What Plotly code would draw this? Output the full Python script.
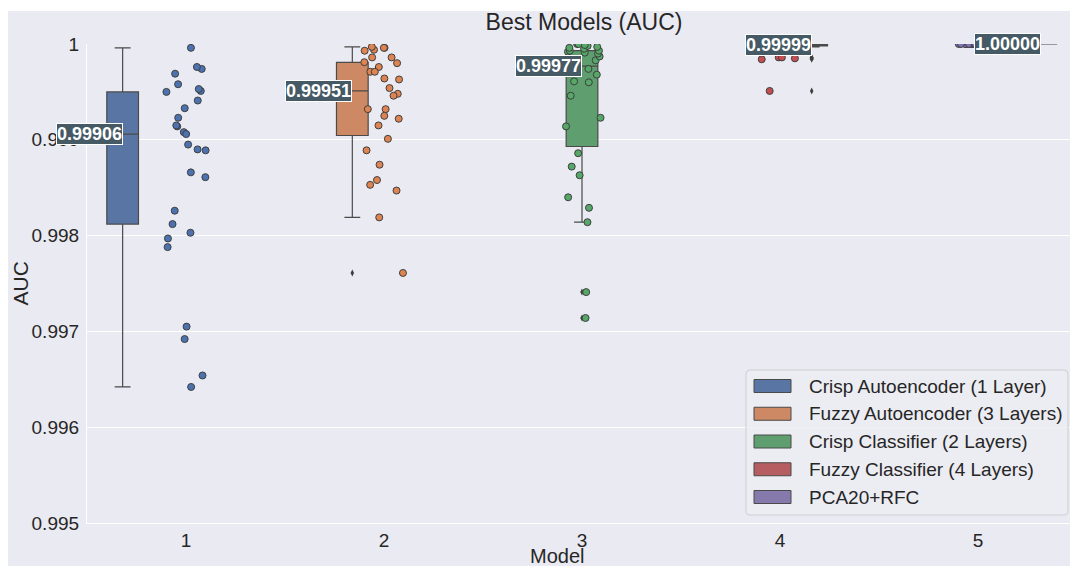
import numpy as np
import plotly.graph_objects as go

models = ["1", "2", "3", "4", "5"]
model_names = [
    "Crisp Autoencoder (1 Layer)",
    "Fuzzy Autoencoder (3 Layers)",
    "Crisp Classifier (2 Layers)",
    "Fuzzy Classifier (4 Layers)",
    "PCA20+RFC",
]

auc_m1 = [0.99996, 0.99974, 0.99976, 0.99969, 0.99958, 0.99951, 0.99950, 0.99953,
          0.99941, 0.99933, 0.99923, 0.99914, 0.99915, 0.99908, 0.99906, 0.99895,
          0.99889, 0.99890, 0.99866, 0.99861, 0.99826, 0.99812, 0.99803, 0.99797,
          0.99788, 0.99705, 0.99692, 0.99654, 0.99642]
auc_m2 = [0.99996, 0.99996, 0.99994, 0.99993, 0.99997, 0.99986, 0.99986, 0.99976,
          0.99981, 0.99980, 0.99971, 0.99971, 0.99963, 0.99964, 0.99948, 0.99954,
          0.99946, 0.99932, 0.99932, 0.99925, 0.99922, 0.99915, 0.99901, 0.99889,
          0.99874, 0.99858, 0.99853, 0.99847, 0.99819, 0.99761]
auc_m3 = [0.99714, 0.99741, 0.99814, 0.99829, 0.99840, 0.99863, 0.99872, 0.99886,
          0.99914, 0.99923, 0.99946, 0.99960, 0.99961, 0.99968, 0.99974, 0.99980,
          0.99983, 0.99987, 0.99990, 0.99991, 0.99992, 0.99993, 0.99993, 0.99995,
          0.99996, 0.99997, 0.99998, 0.99999, 1.00000, 1.00000]
auc_m4 = [0.99951, 0.99984, 0.99985, 0.99986, 0.99986, 0.99997, 0.99998, 0.99998,
          0.99998, 0.99998, 0.99998, 0.99999, 0.99999, 0.99999, 0.99999, 0.99999,
          0.99999, 0.99999, 0.99999, 1.00000, 1.00000, 1.00000, 1.00000, 1.00000,
          1.00000, 1.00000, 1.00000, 1.00000, 1.00000, 1.00000]
auc_m5 = [1.00000] * 30

y_tickvals = [0.995, 0.996, 0.997, 0.998, 0.999, 1.0]
y_ticktext = ["0.995", "0.996", "0.997", "0.998", "0.999", "1"]

all_auc = [auc_m1, auc_m2, auc_m3, auc_m4, auc_m5]

box_colors = ["#5975A4", "#CC8963", "#5F9E6E", "#B55D60", "#857AAB"]
point_colors = ["#4C72B0", "#DD8452", "#55A868", "#C44E52", "#8172B3"]
edge = "#3F3F3F"
FONT = "Liberation Sans, Arial, sans-serif"
TXT = "#262626"

W, H = 1070, 566
L, R, T, B = 87, 0, 44, 43
pw, ph = W - L - R, H - T - B


def px_x(px):
    return (px - L) / pw


def px_y(py):
    return (H - B - py) / ph


fig = go.Figure()
rng = np.random.default_rng(7)
n_models = len(models)
box_w = 0.8 / n_models

annotations = []
for j, vals in enumerate(all_auc):
    a = np.sort(np.asarray(vals, dtype=float))
    q1, med, q3 = np.percentile(a, [25, 50, 75])
    iqr = q3 - q1
    lo_lim, hi_lim = q1 - 1.5 * iqr - 1e-12, q3 + 1.5 * iqr + 1e-12
    inside = a[(a >= lo_lim) & (a <= hi_lim)]
    fliers = a[(a < lo_lim) | (a > hi_lim)]
    pos = j + (j - (n_models - 1) / 2) * box_w

    fig.add_trace(go.Box(
        x=[pos], q1=[q1], median=[med], q3=[q3],
        lowerfence=[inside.min()], upperfence=[inside.max()],
        width=box_w, whiskerwidth=0.5,
        fillcolor=box_colors[j], line=dict(color="#4A4A4A", width=1.2),
        name=model_names[j], boxpoints=False, showlegend=False,
    ))
    if len(fliers):
        fig.add_trace(go.Scatter(
            x=[pos] * len(fliers), y=fliers, mode="markers",
            marker=dict(symbol="diamond-tall", size=5, color="#3F3F3F"),
            showlegend=False, hoverinfo="y",
        ))
    jitter = rng.uniform(-0.1, 0.1, len(vals))
    fig.add_trace(go.Scatter(
        x=j + jitter, y=vals, mode="markers",
        marker=dict(size=7, color=point_colors[j], line=dict(color=edge, width=1)),
        showlegend=False, hoverinfo="y",
    ))
    annotations.append(dict(
        x=pos, y=med, xref="x", yref="y", text="<b>%.5f</b>" % med,
        showarrow=False, xanchor="right", yanchor="middle",
        font=dict(family=FONT, size=18, color="white"),
        bgcolor="#455A64", bordercolor="white", borderwidth=1, borderpad=0,
    ))

# axis titles
annotations.append(dict(text="AUC", x=px_x(20), y=0.5, xref="paper", yref="paper",
                        textangle=-90, showarrow=False, xanchor="center", yanchor="middle",
                        font=dict(family=FONT, size=21, color=TXT)))
annotations.append(dict(text="Model", x=px_x(557), y=px_y(568), xref="paper", yref="paper",
                        showarrow=False, xanchor="center", yanchor="bottom", borderpad=0,
                        font=dict(family=FONT, size=20, color=TXT)))

shapes = [
    dict(type="rect", xref="paper", yref="paper", x0=px_x(0), x1=px_x(8),
         y0=px_y(H), y1=px_y(0), fillcolor="white", line=dict(width=0), layer="above"),
    dict(type="rect", xref="paper", yref="paper", x0=px_x(0), x1=1.0,
         y0=px_y(11), y1=px_y(0), fillcolor="white", line=dict(width=0), layer="above"),
]

# legend (drawn as frame + swatches + text)
lx0, lx1, ly0, ly1, rad = 746, 1068, 370, 515, 4


def P(x, y):
    return "%.6f,%.6f" % (px_x(x), px_y(y))


frame_path = ("M" + P(lx0 + rad, ly0) + " L" + P(lx1 - rad, ly0) + " Q" + P(lx1, ly0) + " " + P(lx1, ly0 + rad)
              + " L" + P(lx1, ly1 - rad) + " Q" + P(lx1, ly1) + " " + P(lx1 - rad, ly1)
              + " L" + P(lx0 + rad, ly1) + " Q" + P(lx0, ly1) + " " + P(lx0, ly1 - rad)
              + " L" + P(lx0, ly0 + rad) + " Q" + P(lx0, ly0) + " " + P(lx0 + rad, ly0) + " Z")
shapes.append(dict(type="path", xref="paper", yref="paper", path=frame_path,
                   fillcolor="rgba(236,236,243,0.85)", line=dict(color="#CDCDD3", width=1), layer="above"))
row0, row_step = 386, 27.75
for j, name in enumerate(model_names):
    cy = row0 + j * row_step
    shapes.append(dict(type="rect", xref="paper", yref="paper",
                       x0=px_x(754), x1=px_x(791), y0=px_y(cy + 6.5), y1=px_y(cy - 6.5),
                       fillcolor=box_colors[j], line=dict(color="#4A4A4A", width=1), layer="above"))
    annotations.append(dict(text=name, x=px_x(807), y=px_y(cy), xref="paper", yref="paper",
                            showarrow=False, xanchor="left", yanchor="middle",
                            font=dict(family=FONT, size=19, color=TXT)))

fig.update_layout(
    width=W, height=H,
    margin=dict(l=L, r=R, t=T, b=B, autoexpand=False),
    paper_bgcolor="#EAEAF2", plot_bgcolor="#EAEAF2",
    font=dict(family=FONT, size=19, color=TXT),
    title=dict(text="Best Models (AUC)", x=584 / W, y=1 - 22 / H, xref="container", yref="container",
               xanchor="center", yanchor="middle", font=dict(family=FONT, size=23, color=TXT)),
    showlegend=False,
    annotations=annotations,
    shapes=shapes,
)
fig.update_xaxes(range=[-0.5, -0.5 + pw / 198.0], tickvals=list(range(n_models)), ticktext=models,
                 showgrid=False, zeroline=False, showline=True, linecolor="white", linewidth=1.2,
                 ticks="", ticklabelstandoff=0, tickfont=dict(family=FONT, size=19, color=TXT))
fig.update_yaxes(range=[0.995, 1.0], tickvals=y_tickvals, ticktext=y_ticktext,
                 showgrid=True, gridcolor="white", gridwidth=1.2, zeroline=False,
                 showline=True, linecolor="white", linewidth=1.2,
                 ticks="", ticklabelstandoff=3, tickfont=dict(family=FONT, size=19, color=TXT))

fig.write_html("out.html")
